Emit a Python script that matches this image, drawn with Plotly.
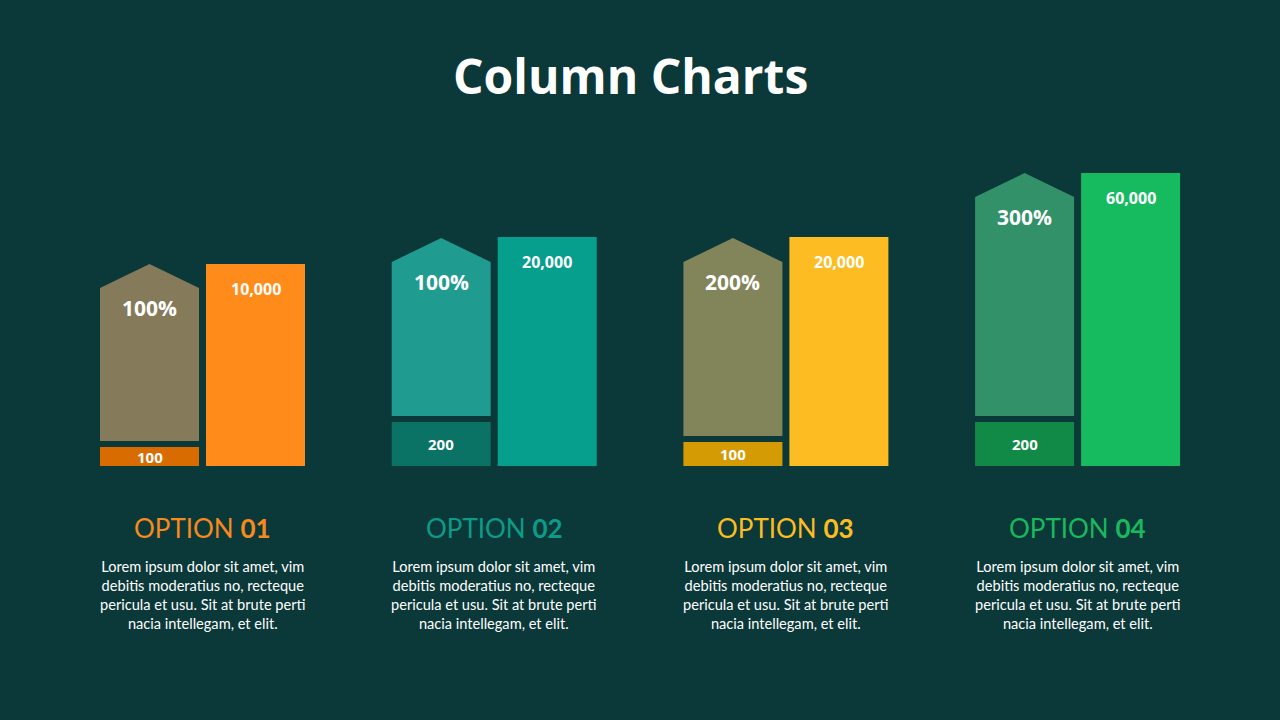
import plotly.graph_objects as go

# data (heights in px above the baseline)
options = ["01", "02", "03", "04"]
percent_labels = ["100%", "100%", "200%", "300%"]
small_labels = ["100", "200", "100", "200"]
big_labels = ["10,000", "20,000", "20,000", "60,000"]
small_heights = [19, 44, 24, 44]
shoulder_heights = [178, 204, 204, 269]
big_heights = [202, 229, 229, 293]
lorem = "Lorem ipsum dolor sit amet, vim<br>debitis moderatius no, recteque<br>pericula et usu. Sit at brute perti<br>nacia intellegam, et elit."

shape_colors = ["#857a5a", "#1f9b8f", "#82845a", "#33916a"]
small_colors = ["#d86c00", "#0b7366", "#d49b05", "#118a47"]
big_colors = ["#ff8c1a", "#069e8c", "#fdbd22", "#17bb5f"]
title_colors = ["#f58a1f", "#0b9c89", "#fbbd22", "#19b95d"]

BG = "#0b3838"
W = 99          # column width
GAP = 6         # gap between small bar and arrow
TIP = 24        # arrow tip height
centers = [202.5 + i * 291.7 for i in range(4)]

fig = go.Figure()

for i in range(4):
    lx = centers[i] - 53
    rx = centers[i] + 53
    # right big column
    fig.add_trace(go.Bar(x=[rx], y=[big_heights[i]], width=W, marker_color=big_colors[i],
                         marker_line_width=0, hoverinfo="skip"))
    # small bar under the arrow
    fig.add_trace(go.Bar(x=[lx], y=[small_heights[i]], width=W, marker_color=small_colors[i],
                         marker_line_width=0, hoverinfo="skip"))
    # arrow shaped column
    b = small_heights[i] + GAP
    s = shoulder_heights[i]
    xs = [lx - W / 2, lx - W / 2, lx, lx + W / 2, lx + W / 2, lx - W / 2]
    ys = [b, s, s + TIP, s, b, b]
    fig.add_trace(go.Scatter(x=xs, y=ys, fill="toself", fillcolor=shape_colors[i], mode="lines",
                             line=dict(width=0, color=shape_colors[i]), hoverinfo="skip"))

    fig.add_annotation(x=lx, y=s - 20, text="<b>" + percent_labels[i] + "</b>", showarrow=False,
                       font=dict(size=21, color="white", family="Open Sans"))
    fig.add_annotation(x=lx, y=small_heights[i] / 2, text="<b>" + small_labels[i] + "</b>", showarrow=False,
                       font=dict(size=15, color="white", family="Open Sans"))
    fig.add_annotation(x=rx, y=big_heights[i] - 25, text="<b>" + big_labels[i] + "</b>", showarrow=False,
                       font=dict(size=16, color="white", family="Open Sans"))
    fig.add_annotation(x=centers[i], y=-62, text="OPTION <b>" + options[i] + "</b>", showarrow=False,
                       font=dict(size=26, color=title_colors[i], family="Lato"))
    fig.add_annotation(x=centers[i], y=-129, text=lorem, showarrow=False, align="center",
                       font=dict(size=14.6, color="white", family="Lato"))

fig.add_annotation(x=630.5, y=466 - 75, text="<b>Column Charts</b>", showarrow=False,
                   font=dict(size=48, color="white", family="Open Sans"))

fig.update_layout(
    width=1280, height=720,
    margin=dict(l=0, r=0, t=0, b=0),
    paper_bgcolor=BG, plot_bgcolor=BG,
    showlegend=False, barmode="overlay",
    xaxis=dict(range=[0, 1280], visible=False, fixedrange=True),
    yaxis=dict(range=[-254, 466], visible=False, fixedrange=True),
)

# drop the default page margin so the chart fills the window
fig.write_html("out.html", config={"displayModeBar": False},
               post_script="document.body.style.margin='0';document.body.style.background='" + BG + "';")
